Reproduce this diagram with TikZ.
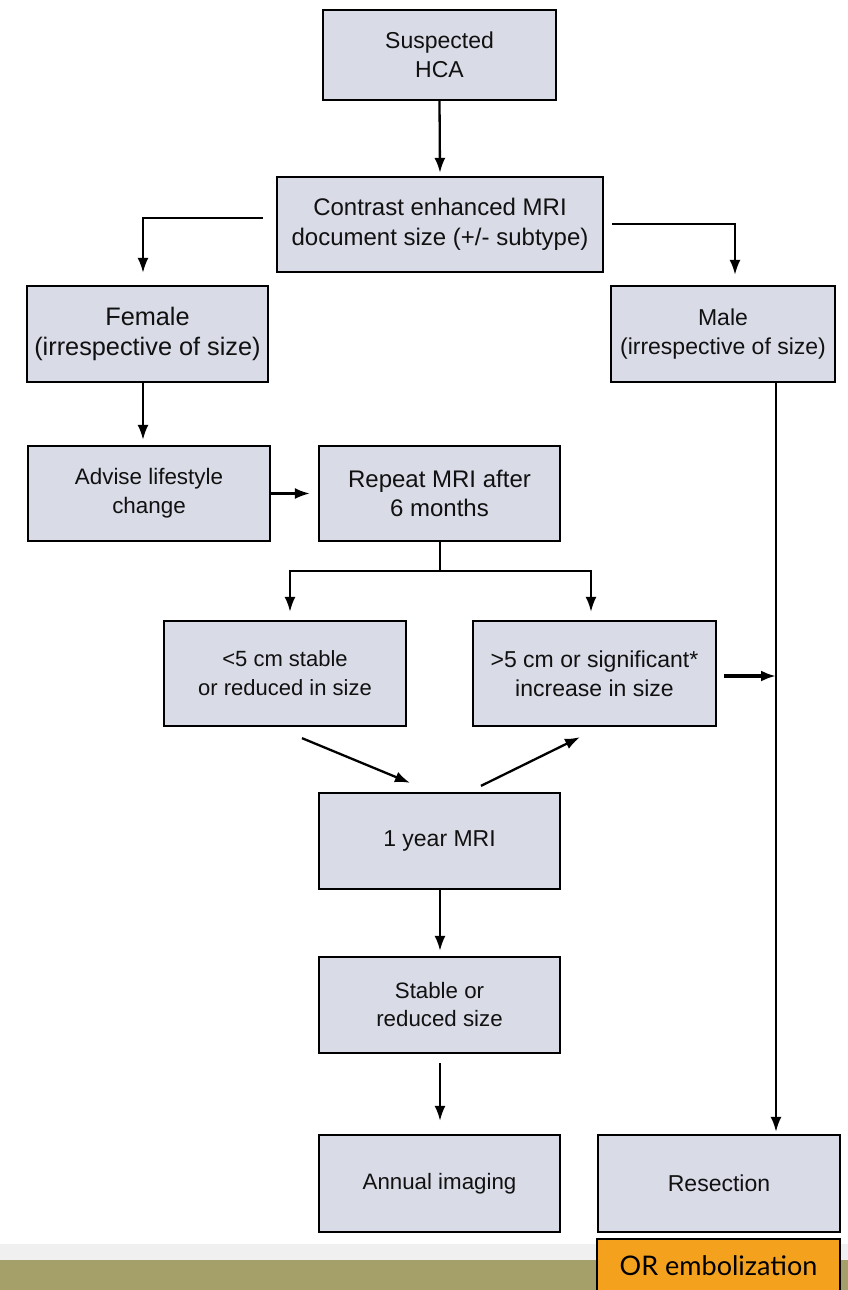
\documentclass[tikz,border=0pt]{standalone}
\usepackage{fontspec}
\setmainfont{Liberation Sans}
\newfontfamily\slidefont{Lato}
\usetikzlibrary{arrows.meta,calc}
\definecolor{boxfill}{HTML}{D9DBE7}
\definecolor{orangefill}{HTML}{F4A21E}
\definecolor{olive}{HTML}{A5A06A}
\definecolor{bandgray}{HTML}{F0F0F0}
\definecolor{txt}{HTML}{111111}
\tikzset{
  box/.style={draw=black, line width=2.3pt, fill=boxfill, rectangle, align=center,
    inner sep=0pt, text=txt, font=\fontsize{23}{29}\selectfont},
  conn/.style={line width=2.3pt, -{Latex[length=15pt,width=11pt]}},
  plain/.style={line width=2.3pt},
}
\begin{document}
\begin{tikzpicture}[x=1pt,y=-1pt]
\useasboundingbox (0,0) rectangle (848,1290);
\fill[white] (0,0) rectangle (848,1290);
\fill[bandgray] (0,1244) rectangle (848,1260);
\fill[olive] (0,1260) rectangle (848,1290);

\node[box, minimum width=233pt, minimum height=90pt] (hca) at (439.5,55) {Suspected\\HCA};
\node[box, minimum width=326pt, minimum height=95pt, font=\fontsize{24}{29.5}\selectfont] (mri) at (440,224.5) {Contrast enhanced MRI\\document size (+/- subtype)};
\node[box, minimum width=241pt, minimum height=96pt, font=\fontsize{25.3}{30}\selectfont] (female) at (147.5,334) {Female\\(irrespective of size)};
\node[box, minimum width=224pt, minimum height=96pt] (male) at (723,334) {Male\\(irrespective of size)};
\node[box, minimum width=242pt, minimum height=95pt, font=\fontsize{22.4}{29}\selectfont] (advise) at (149,493.5) {Advise lifestyle\\change};
\node[box, minimum width=241pt, minimum height=95pt, font=\fontsize{24}{28.5}\selectfont] (repeat) at (439.5,493.5) {Repeat MRI after\\6 months};
\node[box, minimum width=242pt, minimum height=105pt, font=\fontsize{22}{29}\selectfont] (small) at (285,673.5) {<5 cm stable\\or reduced in size};
\node[box, minimum width=243pt, minimum height=105pt] (large) at (594.5,673.5) {>5 cm or significant*\\increase in size};
\node[box, minimum width=241pt, minimum height=96pt] (year) at (439.5,841) {1 year MRI};
\node[box, minimum width=241pt, minimum height=96pt, font=\fontsize{22.3}{28}\selectfont] (stable) at (439.5,1005) {Stable or\\reduced size};
\node[box, minimum width=241pt, minimum height=97pt, font=\fontsize{22.3}{28}\selectfont] (annual) at (439.5,1183.5) {Annual imaging};
\node[box, minimum width=242pt, minimum height=97pt] (resect) at (719,1183.5) {Resection};
\node[draw=black, line width=2.3pt, fill=orangefill, minimum width=243pt, minimum height=60pt, inner sep=0pt, anchor=north, text=black] (embol) at (718.5,1238) {};
\node[font=\slidefont\fontsize{27}{30}\selectfont, text=black, inner sep=0pt] (emboltext) at (718.5,1266) {OR embolization};

% connectors
\draw[conn] (hca.south) -- ($(mri.north)+(0,-3)$);
\draw[conn] ($(mri.west)+(-13,-6.5)$) -| ($(female.north)+(-4.5,-12)$);
\draw[conn] ($(mri.east)+(8,-0.5)$) -| ($(male.north)+(12,-10)$);
\draw[conn] ($(female.south)+(-4.5,0)$) -- ($(advise.north)+(-6,-5)$);
\draw[conn] (advise.east) -- ($(repeat.west)+(-8,0)$);
\coordinate (split) at ($(repeat.south)+(0.5,29)$);
\draw[plain] ($(repeat.south)+(0.5,0)$) -- (split);
\draw[conn] (split) -| ($(small.north)+(5,-8)$);
\draw[conn] (split) -| ($(large.north)+(-3.5,-8)$);
\coordinate (malebus) at (776,676);
\draw[line width=3.2pt, -{Latex[length=15pt,width=11pt]}] ($(large.east)+(7,2.5)$) -- (malebus);
\draw[conn] ($(small.south)+(17,11)$) -- ($(year.north)+(-29.5,-9)$);
\draw[conn] ($(year.north)+(41.5,-6)$) -- ($(large.south)+(-14.5,10)$);
\draw[conn] ($(male.south)+(53,0)$) -- ($(resect.north)+(57,-2)$);
\draw[conn] ($(year.south)+(0.5,0)$) -- ($(stable.north)+(0.5,-5)$);
\draw[conn] ($(stable.south)+(0.5,9)$) -- ($(annual.north)+(0.5,-13)$);
\end{tikzpicture}
\end{document}
